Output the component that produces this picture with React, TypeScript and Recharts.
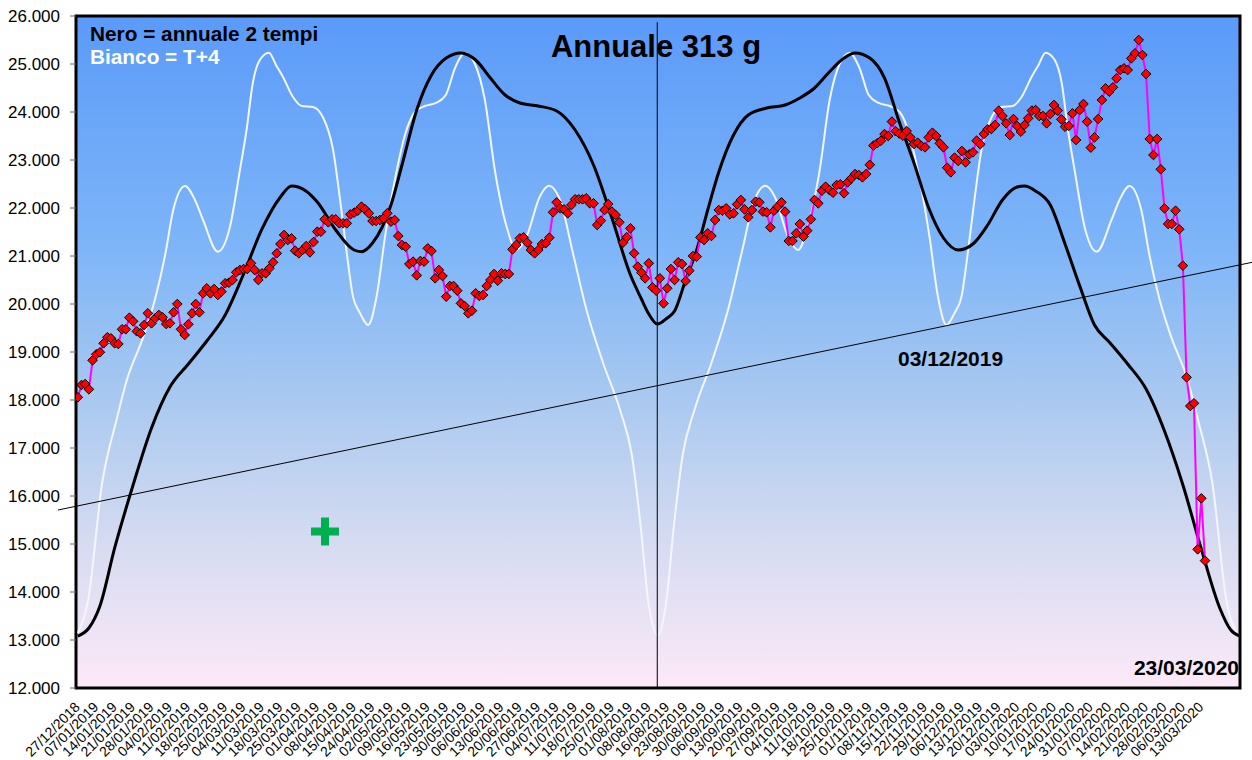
import React from "react";
import {
  ComposedChart,
  Line,
  XAxis,
  YAxis,
  CartesianGrid,
  ReferenceLine,
  ReferenceArea,
} from "recharts";

// Weekly axis labels: one every 5 trading days.
const DATE_LABELS = [
  "27/12/2018", "07/01/2019", "14/01/2019", "21/01/2019", "28/01/2019", "04/02/2019",
  "11/02/2019", "18/02/2019", "25/02/2019", "04/03/2019", "11/03/2019", "18/03/2019",
  "25/03/2019", "01/04/2019", "08/04/2019", "15/04/2019", "24/04/2019", "02/05/2019",
  "09/05/2019", "16/05/2019", "23/05/2019", "30/05/2019", "06/06/2019", "13/06/2019",
  "20/06/2019", "27/06/2019", "04/07/2019", "11/07/2019", "18/07/2019", "25/07/2019",
  "01/08/2019", "08/08/2019", "16/08/2019", "23/08/2019", "30/08/2019", "06/09/2019",
  "13/09/2019", "20/09/2019", "27/09/2019", "04/10/2019", "11/10/2019", "18/10/2019",
  "25/10/2019", "01/11/2019", "08/11/2019", "15/11/2019", "22/11/2019", "29/11/2019",
  "06/12/2019", "13/12/2019", "20/12/2019", "03/01/2020", "10/01/2020", "17/01/2020",
  "24/01/2020", "31/01/2020", "07/02/2020", "14/02/2020", "21/02/2020", "28/02/2020",
  "06/03/2020", "13/03/2020",
];

const Y_TICKS = [12000, 13000, 14000, 15000, 16000, 17000, 18000, 19000, 20000, 21000, 22000, 23000, 24000, 25000, 26000];

// Daily closes (one per trading day, starting 27/12/2018)
const PRICE = [
  18056, 18313, 18333, 18222, 18827, 18952, 18994, 19181, 19306, 19285,
  19181, 19167, 19473, 19473, 19715, 19639, 19431, 19389, 19562, 19806,
  19598, 19702, 19771, 19723, 19583, 19598, 19827, 20000, 19473, 19354,
  19577, 19806, 20000, 19827, 20222, 20327, 20222, 20313, 20188, 20257,
  20431, 20444, 20500, 20660, 20708, 20729, 20729, 20848, 20708, 20500,
  20639, 20639, 20743, 20868, 21056, 21250, 21438, 21333, 21368, 21111,
  21056, 21125, 21208, 21076, 21292, 21507, 21507, 21764, 21702, 21764,
  21764, 21681, 21681, 21681, 21868, 21903, 21944, 22028, 21972, 21889,
  21729, 21729, 21750, 21785, 21889, 21715, 21750, 21417, 21229, 21194,
  20833, 20882, 20597, 20896, 20882, 21160, 21104, 20535, 20708, 20583,
  20153, 20375, 20375, 20278, 20014, 19958, 19806, 19861, 20222, 20167,
  20188, 20375, 20500, 20625, 20486, 20639, 20625, 20625, 21139, 21229,
  21368, 21389, 21278, 21125, 21056, 21125, 21250, 21264, 21382, 21910,
  22118, 21993, 21972, 21889, 22063, 22181, 22181, 22181, 22201, 22097,
  22097, 21646, 21736, 21958, 22083, 21924, 21854, 21702, 21278, 21389,
  21576, 21056, 20778, 20653, 20535, 20848, 20347, 20278, 20535, 20014,
  20327, 20729, 20500, 20868, 20833, 20479, 20694, 21000, 20986, 21389,
  21333, 21472, 21417, 21750, 21958, 21944, 21993, 21868, 21889, 22076,
  22167, 21972, 21806, 21958, 22132, 22118, 21924, 21910, 21597, 21944,
  22028, 22118, 21924, 21313, 21313, 21472, 21667, 21403, 21528, 21764,
  22167, 22097, 22361, 22444, 22375, 22319, 22479, 22493, 22306, 22535,
  22618, 22708, 22688, 22639, 22708, 22900, 23300, 23350, 23400, 23540,
  23500, 23800, 23600, 23550, 23507, 23604, 23472, 23333, 23361, 23292,
  23264, 23472, 23569, 23500, 23347, 23264, 22840, 22743, 23049, 22979,
  23188, 22952, 23118, 23160, 23403, 23327, 23542, 23639, 23646, 23729,
  24028, 23917, 23764, 23521, 23854, 23708, 23590, 23729, 23868, 24028,
  24042, 23917, 23917, 23764, 23958, 24146, 24028, 23847, 23694, 23708,
  23972, 23417, 24042, 24167, 23799, 23257, 23472, 23854, 24250, 24493,
  24424, 24514, 24701, 24875, 24910, 24875, 25118, 25222, 25500, 25188,
  24792, 23438, 23104, 23438, 22806, 21993, 21667, 21667, 21944, 21556,
  20799, 18472, 17875, 17931, 14889, 15951, 14653,
];

// Black curve "annuale 2 tempi": trading-day position and value
const BLACK_I = [
  0, 3, 6, 10, 15, 20, 25, 30, 35, 40, 45, 50, 55, 58, 62, 65, 70, 75, 77, 80,
  85, 88, 92, 96, 100, 104, 108, 112, 116, 120, 125, 130, 135, 140, 145, 150, 153, 155, 157.3,
  160, 162, 165, 168, 171, 174, 178, 182, 187, 192, 196, 200, 204, 208, 211, 215, 219,
  223, 227, 231, 235, 239, 243, 247, 251, 255, 257, 260, 264, 268, 272, 276,
  280, 285, 290, 295, 300, 305, 310, 313, 315.5,
];
const BLACK_V = [
  13083, 13250, 13708, 14917, 16229, 17417, 18271, 18750, 19229, 19771, 20625, 21563, 22229, 22458, 22350, 22125, 21542, 21125, 21090, 21271,
  22063, 22896, 24042, 24771, 25125, 25230, 25083, 24708, 24354, 24188, 24125, 24021, 23625, 22896, 21792, 20608, 20104, 19792, 19583,
  19708, 19854, 20500, 21125, 21958, 22750, 23521, 23938, 24083, 24146, 24292, 24500, 24833, 25125, 25230, 25125, 24708,
  23792, 22938, 22000, 21375, 21125, 21250, 21646, 22167, 22438, 22458, 22354, 22063, 21250, 20375, 19563,
  19208, 18750, 18229, 17354, 16229, 14896, 13667, 13208, 13083,
];

// White curve "T+4"
const WHITE_I = [
  0, 2.8, 6.6, 10.5, 13.3, 17.8, 20.9, 23.7, 25.9, 29.1, 31.8, 34, 38, 41.3, 44, 45.8, 47.5, 49.4, 51.9, 53.8,
  55.7, 58.4, 60.8, 63.8, 66.5, 69.3, 71.2, 73, 74.7, 76.6, 78.8, 81.1, 83.4, 85.2, 86.6, 88.8, 91.5, 94.2, 97.2, 99.9,
  102.4, 105.1, 107.8, 110.5, 113.2, 116.4, 119.1, 121.8, 125.4, 127.9, 130.9, 134.4, 138.1, 142.6, 147.2, 150.4, 152.9, 154.8, 157.5,
  159.8, 161.7, 164.2, 167.4, 172, 176.5, 180.2, 183.7, 186.7, 189.2, 192.8, 195.5, 198.2, 201.4, 204.1, 206.8, 209.5, 212.2,
  214.7, 217.4, 220.4, 223.1, 225.8, 228, 229.4, 231.2, 233.5, 235.8, 238, 239.9, 241.6, 243.4, 245.3, 248.1, 250.8, 253.8,
  256.2, 258.9, 260.8, 262.7, 265.2, 267.1, 268.8, 270.6, 273.3, 276.6, 280.6, 282.8, 285.5, 288.7, 290.9, 293.7, 296.8,
  301.3, 304.1, 308, 311.8, 314.6, 315.5,
];
const WHITE_V = [
  13146, 13833, 16271, 17583, 18417, 19319, 20083, 21021, 21958, 22458, 22167, 21750, 21090, 21611, 22792, 23625, 24604, 25083, 25235, 24979,
  24729, 24313, 24125, 24104, 23896, 23208, 22167, 21063, 20153, 19813, 19563, 20153, 21403, 22236, 22792, 23521, 24000, 24125, 24188, 24354,
  24917, 25230, 25000, 24250, 22792, 21611, 21125, 21403, 22236, 22465, 22167, 21063, 19875, 18771, 17792, 16854, 15292, 13833, 13104,
  13833, 15292, 16854, 17792, 18771, 19875, 21063, 22167, 22465, 22236, 21403, 21125, 21611, 22792, 24250, 25000, 25230, 24917,
  24354, 24188, 24125, 24000, 23521, 22792, 22236, 21403, 20153, 19563, 19813, 20153, 21063, 22167, 23208, 23896, 24104, 24125,
  24313, 24729, 24979, 25235, 25083, 24604, 23625, 22792, 21611, 21090, 21750, 22167, 22458, 21958, 21021, 20083, 19319,
  18417, 17583, 16271, 13833, 13146, 13083,
];

const FONT = "'Liberation Sans', Arial, sans-serif";

const priceData = PRICE.map((v, i) => ({ i, v }));
const blackData = BLACK_I.map((i, k) => ({ i, v: BLACK_V[k] }));
const whiteData = WHITE_I.map((i, k) => ({ i, v: WHITE_V[k] }));
const xTicks = DATE_LABELS.map((_, k) => k * 5);

const fmtThousands = (v: number) => {
  const s = String(Math.round(v));
  return s.slice(0, s.length - 3) + "." + s.slice(-3);
};

function DateTick(props: any) {
  const { x, y, payload } = props;
  const label = DATE_LABELS[Math.round(payload.value / 5)];
  const ax = x + 3;
  const ay = y + 12;
  return (
    <text
      x={ax}
      y={ay}
      transform={`rotate(-45 ${ax} ${ay})`}
      textAnchor="end"
      fontSize={14}
      fontFamily={FONT}
      fill="#000"
    >
      {label}
    </text>
  );
}

function Diamond(props: any) {
  const { cx, cy, index } = props;
  if (cx == null || cy == null) return null;
  const r = 4.8;
  return (
    <polygon
      key={`d-${index}`}
      points={`${cx},${cy - r} ${cx + r},${cy} ${cx},${cy + r} ${cx - r},${cy}`}
      fill="#ff0000"
      stroke="#000"
      strokeWidth={1}
    />
  );
}

export default function App() {
  return (
    <div style={{ position: "absolute", left: 0, top: 0, width: 1252, height: 760, background: "#fff" }}>
      <ComposedChart width={1252} height={760} margin={{ top: 16, right: 12, bottom: 0, left: 0 }}>
        <defs>
          <linearGradient id="plotBg" x1="0" y1="0" x2="0" y2="1">
            <stop offset="0%" stopColor="#5a9af9" />
            <stop offset="35%" stopColor="#7fb6f8" />
            <stop offset="55%" stopColor="#a5c7f0" />
            <stop offset="78%" stopColor="#d5dbf1" />
            <stop offset="100%" stopColor="#fde9f8" />
          </linearGradient>
        </defs>
        <CartesianGrid horizontal={false} vertical={false} fill="url(#plotBg)" />
        <XAxis
          dataKey="i"
          type="number"
          domain={[-0.5, 315.5]}
          allowDataOverflow
          ticks={xTicks}
          interval={0}
          tick={<DateTick />}
          axisLine={false}
          tickLine={false}
          height={72}
        />
        <YAxis
          type="number"
          domain={[12000, 26000]}
          allowDataOverflow
          ticks={Y_TICKS}
          interval={0}
          tickFormatter={fmtThousands}
          width={76}
          tickSize={6}
          tickMargin={10}
          axisLine={false}
          tickLine={{ stroke: "#666" }}
          tick={{ fontSize: 17, fill: "#000", fontFamily: FONT }}
        />
        <Line
          data={whiteData}
          dataKey="v"
          type="monotone"
          stroke="#f4f6ff"
          strokeWidth={2}
          dot={false}
          isAnimationActive={false}
        />
        <Line
          data={blackData}
          dataKey="v"
          type="monotone"
          stroke="#000"
          strokeWidth={3}
          dot={false}
          isAnimationActive={false}
        />
        <Line
          data={priceData}
          dataKey="v"
          type="linear"
          stroke="#ff00ff"
          strokeWidth={2}
          dot={<Diamond />}
          isAnimationActive={false}
        />
        <ReferenceLine
          segment={[{ x: 157.3, y: 25870 }, { x: 157.3, y: 12000 }]}
          stroke="#000"
          strokeWidth={1}
          ifOverflow="visible"
        />
        <ReferenceLine
          segment={[{ x: -5.4, y: 15708 }, { x: 319.2, y: 20875 }]}
          stroke="#000"
          strokeWidth={1}
          ifOverflow="visible"
        />
        <ReferenceArea
          x1={-0.5}
          x2={315.5}
          y1={12000}
          y2={26000}
          fill="none"
          stroke="#000"
          strokeWidth={3}
        />
      </ComposedChart>
      <svg
        width={1252}
        height={760}
        style={{ position: "absolute", left: 0, top: 0, pointerEvents: "none" }}
        fontFamily={FONT}
        fontWeight="bold"
      >
        <text x={90} y={41} fontSize={20.8} fill="#000">Nero = annuale 2 tempi</text>
        <text x={90} y={64} fontSize={20.8} fill="#fff">Bianco = T+4</text>
        <text x={656} y={57} fontSize={31} fill="#000" textAnchor="middle">Annuale 313 g</text>
        <text x={898} y={366} fontSize={21} fill="#000">03/12/2019</text>
        <text x={1239} y={675} fontSize={21} fill="#000" textAnchor="end">23/03/2020</text>
        <rect x={311} y={527.5} width={28} height={8} fill="#00b050" />
        <rect x={321} y={517.5} width={8} height={28} fill="#00b050" />
      </svg>
    </div>
  );
}
